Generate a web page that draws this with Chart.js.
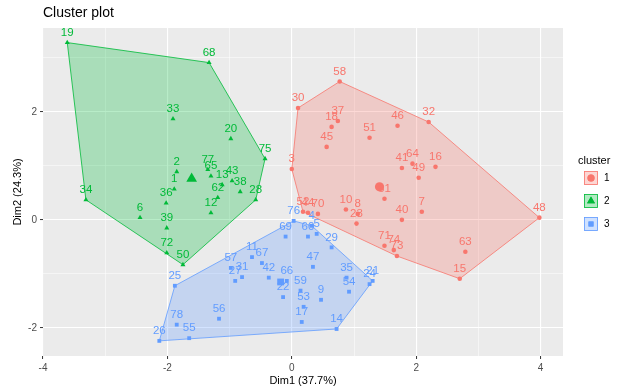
<!DOCTYPE html>
<html><head><meta charset="utf-8">
<script src="https://cdn.jsdelivr.net/npm/chart.js@4.4.1/dist/chart.umd.min.js"></script>
<style>html,body{margin:0;padding:0;background:#fff;overflow:hidden}#wrap{width:623px;height:390px}</style>
</head><body><div id="wrap"><canvas id="c" width="623" height="390"></canvas></div>
<script>
// ---- data ----
const clusterNames = ["1", "2", "3"];
const clusterColors = ["#F8766D", "#00BA38", "#619CFF"];

const c1Labels = ["58","30","37","18","45","51","46","32","3","41","64","49","16","61","7","40","10","8","23","52","44","70","71","74","73","48","63","15"];
const c1X = [0.77,0.10,0.74,0.64,0.56,1.25,1.70,2.20,0.00,1.77,1.94,2.04,2.31,1.49,2.09,1.77,0.87,1.06,1.04,0.18,0.26,0.42,1.49,1.64,1.69,3.98,2.79,2.70];
const c1Y = [2.56,2.07,1.83,1.72,1.35,1.52,1.74,1.81,0.94,0.96,1.04,0.78,0.98,0.39,0.15,0.00,0.19,0.11,-0.07,0.15,0.13,0.11,-0.48,-0.56,-0.67,0.04,-0.59,-1.09];

const c2Labels = ["19","68","33","20","75","34","2","1","36","6","39","72","50","77","65","13","43","62","38","28","12"];
const c2X = [-3.61,-1.33,-1.91,-0.98,-0.43,-3.31,-1.85,-1.89,-2.02,-2.44,-2.01,-2.01,-1.75,-1.35,-1.30,-1.12,-0.96,-1.19,-0.83,-0.58,-1.30];
const c2Y = [3.28,2.91,1.87,1.50,1.13,0.37,0.89,0.57,0.31,0.04,-0.15,-0.61,-0.83,0.93,0.81,0.65,0.72,0.41,0.52,0.37,0.13];

const c3Labels = ["76","69","60","5","4","29","47","35","54","21","24","9","53","59","17","14","66","22","42","67","11","57","27","31","25","56","78","55","26"];
const c3X = [0.03,-0.10,0.26,0.40,0.32,0.64,0.34,0.88,0.92,1.30,1.25,0.47,0.19,0.14,0.16,0.72,-0.08,-0.14,-0.37,-0.48,-0.64,-0.98,-0.91,-0.80,-1.88,-1.17,-1.85,-1.65,-2.13];
const c3Y = [-0.02,-0.31,-0.31,-0.26,-0.11,-0.51,-0.87,-1.07,-1.33,-1.13,-1.19,-1.48,-1.61,-1.31,-1.89,-2.02,-1.13,-1.43,-1.07,-0.80,-0.69,-0.89,-1.13,-1.06,-1.22,-1.83,-1.94,-2.19,-2.24];

const centroidX = [1.41, -1.61, -0.18];
const centroidY = [0.61, 0.76, -1.15];

const xGridValues = [-4,-3,-2,-1,0,1,2,3,4];
const xTickValues = [-4,-2,0,2,4];
const xTickLabels = ["-4","-2","0","2","4"];
const yGridValues = [-2,-1,0,1,2,3];
const yTickValues = [-2,0,2];
const yTickLabels = ["-2","0","2"];

// ---- helpers ----
function toPts(xs, ys){ return xs.map((x,i)=>({x:x, y:ys[i]})); }
function hull(xs, ys){
  const p = toPts(xs, ys).sort((a,b)=>a.x-b.x || a.y-b.y);
  const cross=(o,a,b)=>(a.x-o.x)*(b.y-o.y)-(a.y-o.y)*(b.x-o.x);
  const lo=[], up=[];
  for(const q of p){ while(lo.length>=2 && cross(lo[lo.length-2],lo[lo.length-1],q)<=0) lo.pop(); lo.push(q); }
  for(let i=p.length-1;i>=0;i--){ const q=p[i]; while(up.length>=2 && cross(up[up.length-2],up[up.length-1],q)<=0) up.pop(); up.push(q); }
  up.pop(); lo.pop();
  const h = lo.concat(up);
  h.push(h[0]);
  return h;
}
function rgba(hex,a){ const n=parseInt(hex.slice(1),16); return `rgba(${n>>16},${(n>>8)&255},${n&255},${a})`; }

const FONT = '"Liberation Sans", Arial, Helvetica, sans-serif';
const groups = [
  {labels:c1Labels, xs:c1X, ys:c1Y, style:'circle', r:2.3},
  {labels:c2Labels, xs:c2X, ys:c2Y, style:'triangle', r:2.9},
  {labels:c3Labels, xs:c3X, ys:c3Y, style:'rect', r:2.7}
];

const datasets = [];
groups.forEach((g,i)=>{
  datasets.push({
    label:'hull'+clusterNames[i], data:hull(g.xs,g.ys), showLine:true, fill:false,
    borderColor:clusterColors[i], borderWidth:0.8, pointRadius:0, tension:0,
    hullFill:rgba(clusterColors[i],0.28), order:5
  });
});
groups.forEach((g,i)=>{
  datasets.push({
    label:'cluster'+clusterNames[i], data:toPts(g.xs,g.ys), pointStyle:g.style,
    pointRadius:g.r, backgroundColor:clusterColors[i], borderWidth:0,
    pointLabels:g.labels, labelColor:clusterColors[i], order:1
  });
});
datasets.push({
  label:'centroids', data:toPts(centroidX,centroidY),
  pointStyle:['circle','triangle','rect'], pointRadius:[4.6,6.2,4.8],
  backgroundColor:clusterColors, borderWidth:0, order:0
});

// ---- plugins ----
const bgPlugin = {
  id:'bg',
  beforeDraw(chart){
    const {ctx, chartArea:a} = chart;
    ctx.save();
    ctx.fillStyle='#FFFFFF'; ctx.fillRect(0,0,chart.width,chart.height);
    ctx.fillStyle='#EBEBEB'; ctx.fillRect(a.left,a.top,a.right-a.left,a.bottom-a.top);
    ctx.restore();
  }
};
const hullFillPlugin = {
  id:'hullFill',
  beforeDatasetsDraw(chart){
    const ctx=chart.ctx, a=chart.chartArea;
    ctx.save();
    ctx.beginPath(); ctx.rect(a.left,a.top,a.right-a.left,a.bottom-a.top); ctx.clip();
    chart.data.datasets.forEach((ds,i)=>{
      if(!ds.hullFill) return;
      const pts=chart.getDatasetMeta(i).data;
      ctx.beginPath();
      pts.forEach((p,j)=>{ if(j===0) ctx.moveTo(p.x,p.y); else ctx.lineTo(p.x,p.y); });
      ctx.closePath();
      ctx.fillStyle=ds.hullFill; ctx.fill();
    });
    ctx.restore();
  }
};
const labelPlugin = {
  id:'pointLabels',
  afterDatasetsDraw(chart){
    const ctx=chart.ctx;
    chart.data.datasets.forEach((ds,i)=>{
      if(!ds.pointLabels) return;
      const meta=chart.getDatasetMeta(i);
      ctx.save();
      ctx.font='11.5px '+FONT; ctx.fillStyle=ds.labelColor;
      ctx.textAlign='center'; ctx.textBaseline='middle';
      meta.data.forEach((pt,j)=>ctx.fillText(ds.pointLabels[j], pt.x, pt.y-10));
      ctx.restore();
    });
  }
};
const decorPlugin = {
  id:'decor',
  afterDraw(chart){
    const ctx=chart.ctx;
    ctx.save();
    ctx.fillStyle='#000'; ctx.textBaseline='middle'; ctx.textAlign='left';
    ctx.font='14px '+FONT;
    ctx.fillText('Cluster plot', 43, 13);
    ctx.font='11px '+FONT;
    ctx.fillText('cluster', 578, 161);
    const styles=['circle','triangle','rect'];
    const centers=[178,201,224];
    for(let i=0;i<3;i++){
      const cy=centers[i], x0=584, s=14;
      ctx.fillStyle=rgba(clusterColors[i],0.3);
      ctx.fillRect(x0, cy-s/2, s, s);
      ctx.strokeStyle=clusterColors[i]; ctx.lineWidth=0.8;
      ctx.strokeRect(x0+0.5, cy-s/2+0.5, s-1, s-1);
      Chart.helpers.drawPoint(ctx, {pointStyle:styles[i], radius:i===1?4.5:3.5, borderWidth:0, rotation:0}, x0+s/2, cy);
      ctx.fillStyle=clusterColors[i];
      ctx.beginPath();
      Chart.helpers.drawPoint(ctx, {pointStyle:styles[i], radius:i===1?4.5:3.5, borderWidth:0, rotation:0}, x0+s/2, cy);
      ctx.fill();
      ctx.fillStyle='#000'; ctx.font='10px '+FONT;
      ctx.fillText(clusterNames[i], 604, cy+0.5);
    }
    ctx.restore();
  }
};

const isMajor = v => Math.abs(v % 2) < 1e-9;

new Chart(document.getElementById('c'), {
  type:'scatter',
  data:{datasets},
  options:{
    responsive:false, animation:false, devicePixelRatio:1, events:[],
    layout:{padding:{top:28, right:60, bottom:0, left:0}},
    plugins:{legend:{display:false}, tooltip:{enabled:false}, title:{display:false}},
    scales:{
      x:{
        type:'linear', min:-4, max:4.36,
        afterBuildTicks(s){ s.ticks = xGridValues.map(v=>({value:v})); },
        afterFit(s){ s.height = 34; },
        ticks:{ autoSkip:false, maxRotation:0, padding:3, color:'#4D4D4D', font:{size:10, family:FONT},
          callback:(v)=>{ const k=xTickValues.indexOf(v); return k>=0 ? xTickLabels[k] : ''; } },
        grid:{ color:'#FFFFFF', lineWidth:c=>isMajor(c.tick.value)?1.1:0.5,
          tickColor:c=>isMajor(c.tick.value)?'#333333':'rgba(0,0,0,0)', tickLength:3, tickWidth:1 },
        border:{display:false},
        title:{display:true, text:'Dim1 (37.7%)', color:'#000', font:{size:11, family:FONT}, padding:{top:0,bottom:2}}
      },
      y:{
        type:'linear', min:-2.52, max:3.55,
        afterBuildTicks(s){ s.ticks = yGridValues.map(v=>({value:v})); },
        afterFit(s){ s.width = 43; },
        ticks:{ autoSkip:false, padding:3, color:'#4D4D4D', font:{size:10, family:FONT},
          callback:(v)=>{ const k=yTickValues.indexOf(v); return k>=0 ? yTickLabels[k] : ''; } },
        grid:{ color:'#FFFFFF', lineWidth:c=>isMajor(c.tick.value)?1.1:0.5,
          tickColor:c=>isMajor(c.tick.value)?'#333333':'rgba(0,0,0,0)', tickLength:3, tickWidth:1 },
        border:{display:false},
        title:{display:true, text:'Dim2 (24.3%)', color:'#000', font:{size:11, family:FONT}, padding:{top:11.4,bottom:0}}
      }
    }
  },
  plugins:[bgPlugin, hullFillPlugin, labelPlugin, decorPlugin]
});
</script></body></html>
